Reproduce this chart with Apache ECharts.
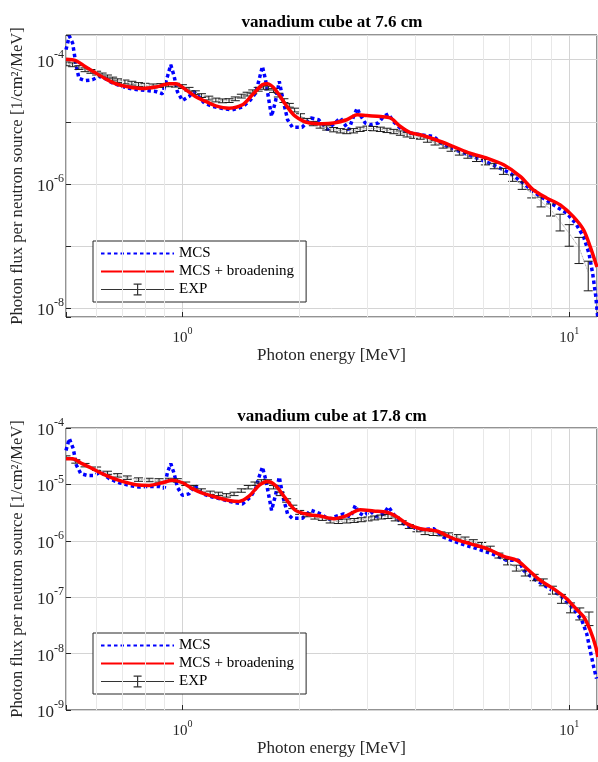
<!DOCTYPE html>
<html>
<head>
<meta charset="utf-8">
<script src="https://cdn.jsdelivr.net/npm/echarts@6/dist/echarts.min.js"></script>
<style>
html, body { margin: 0; padding: 0; background: #fff; }
#chart { width: 598px; height: 762px; }
</style>
</head>
<body>
<div id="chart"></div>
<script>
// ---- data: [energy MeV, flux] ----
var mcs76 = [
	[0.50, 1.45e-4], [0.51, 2.4e-4], [0.52, 1.86e-4], [0.53, 8.8e-5], [0.54, 5.0e-5],
	[0.56, 4.6e-5], [0.585, 4.75e-5], [0.61, 5.4e-5], [0.634, 4.9e-5], [0.66, 4.2e-5],
	[0.70, 3.7e-5], [0.742, 3.37e-5], [0.804, 3.2e-5], [0.853, 3.08e-5], [0.888, 2.83e-5],
	[0.915, 5.4e-5], [0.933, 8.3e-5], [0.952, 5.4e-5], [0.97, 3.08e-5], [1.0, 2.2e-5],
	[1.04, 2.56e-5], [1.07, 3.08e-5], [1.10, 2.56e-5], [1.14, 2.0e-5], [1.195, 1.77e-5],
	[1.27, 1.64e-5], [1.346, 1.56e-5], [1.43, 1.73e-5], [1.50, 2.26e-5], [1.546, 2.9e-5],
	[1.578, 4.75e-5], [1.61, 7.8e-5], [1.64, 4.75e-5], [1.675, 2.13e-5], [1.70, 1.22e-5],
	[1.74, 2.13e-5], [1.78, 4.47e-5], [1.82, 2.26e-5], [1.87, 1.08e-5], [1.924, 8.2e-6],
	[2.04, 8.2e-6], [2.15, 1.15e-5], [2.25, 1.08e-5], [2.37, 7.5e-6], [2.56, 1.15e-5],
	[2.69, 7.4e-6], [2.77, 1.22e-5], [2.83, 1.66e-5], [2.88, 1.3e-5], [2.97, 9.55e-6],
	[3.06, 9.0e-6], [3.21, 9.55e-6], [3.31, 1.22e-5], [3.41, 1.34e-5], [3.51, 1.01e-5],
	[3.66, 7.9e-6], [3.88, 6.6e-6], [4.12, 6.2e-6], [4.46, 5.8e-6], [4.73, 4.26e-6],
	[5.23, 3.3e-6], [5.77, 2.6e-6], [6.36, 2.03e-6], [7.05, 1.48e-6], [7.62, 1.02e-6],
	[8.08, 7.5e-7], [9.1, 4.6e-7], [9.85, 3.4e-7], [10.4, 2.3e-7], [10.9, 1.4e-7],
	[11.25, 7.6e-8], [11.5, 3.6e-8], [11.72, 1.52e-8], [11.85, 7.2e-9], [11.95, 4e-9]
];
var brd76 = [
	[0.50, 1.02e-4], [0.53, 9.7e-5], [0.56, 7.8e-5], [0.597, 6.1e-5], [0.634, 4.9e-5],
	[0.672, 4.1e-5], [0.728, 3.63e-5], [0.788, 3.44e-5], [0.853, 3.63e-5], [0.924, 4.1e-5],
	[0.961, 4.1e-5], [1.02, 3.28e-5], [1.08, 2.56e-5], [1.149, 2.13e-5], [1.219, 1.81e-5],
	[1.32, 1.66e-5], [1.43, 1.88e-5], [1.517, 2.72e-5], [1.61, 3.95e-5], [1.66, 4.1e-5],
	[1.74, 3.28e-5], [1.85, 1.88e-5], [1.96, 1.22e-5], [2.13, 9.55e-6], [2.30, 9.3e-6],
	[2.46, 9.55e-6], [2.66, 1.08e-5], [2.83, 1.3e-5], [3.0, 1.26e-5], [3.25, 1.22e-5],
	[3.45, 1.15e-5], [3.66, 8.4e-6], [3.88, 6.7e-6], [4.12, 6.2e-6], [4.54, 5.1e-6],
	[5.02, 4.0e-6], [5.54, 3.12e-6], [6.13, 2.6e-6], [6.77, 2.03e-6], [7.47, 1.32e-6],
	[8.08, 8.0e-7], [8.76, 5.9e-7], [9.48, 4.6e-7], [10.25, 2.97e-7], [10.9, 1.81e-7],
	[11.33, 9.8e-8], [11.8, 4.6e-8]
];
// [energy, flux, relative error]
var exp76 = [
	[0.50, 8.6e-5, 0.07], [0.52, 8.3e-5, 0.07], [0.54, 7.5e-5, 0.07], [0.56, 6.9e-5, 0.07],
	[0.58, 6.5e-5, 0.07], [0.60, 6.1e-5, 0.07], [0.62, 5.7e-5, 0.07], [0.64, 5.3e-5, 0.07],
	[0.66, 4.9e-5, 0.07], [0.68, 4.6e-5, 0.07], [0.71, 4.4e-5, 0.07], [0.74, 4.2e-5, 0.07],
	[0.77, 4.0e-5, 0.07], [0.80, 3.9e-5, 0.07], [0.84, 3.8e-5, 0.07], [0.88, 3.85e-5, 0.07],
	[0.92, 3.95e-5, 0.07], [0.96, 3.9e-5, 0.07], [1.00, 3.7e-5, 0.07], [1.04, 3.35e-5, 0.07],
	[1.08, 2.95e-5, 0.07], [1.12, 2.65e-5, 0.07], [1.17, 2.42e-5, 0.07], [1.22, 2.25e-5, 0.07],
	[1.27, 2.18e-5, 0.07], [1.32, 2.2e-5, 0.07], [1.37, 2.35e-5, 0.07], [1.42, 2.6e-5, 0.07],
	[1.47, 2.8e-5, 0.07], [1.52, 3.05e-5, 0.07], [1.57, 3.35e-5, 0.07], [1.62, 3.6e-5, 0.07],
	[1.67, 3.5e-5, 0.07], [1.72, 3.2e-5, 0.07], [1.77, 2.7e-5, 0.07], [1.83, 2.2e-5, 0.07],
	[1.89, 1.85e-5, 0.07], [1.95, 1.55e-5, 0.07], [2.02, 1.25e-5, 0.08], [2.10, 1.05e-5, 0.08],
	[2.18, 9.4e-6, 0.08], [2.27, 8.6e-6, 0.08], [2.36, 8.0e-6, 0.08], [2.46, 7.5e-6, 0.08],
	[2.56, 7.2e-6, 0.08], [2.66, 7.0e-6, 0.08], [2.77, 7.2e-6, 0.08], [2.88, 7.6e-6, 0.08],
	[3.00, 7.9e-6, 0.08], [3.12, 7.8e-6, 0.08], [3.25, 7.6e-6, 0.08], [3.38, 7.3e-6, 0.08],
	[3.52, 7.0e-6, 0.08], [3.66, 6.6e-6, 0.08], [3.81, 6.2e-6, 0.08], [3.96, 5.9e-6, 0.08],
	[4.12, 5.7e-6, 0.08], [4.30, 5.1e-6, 0.08], [4.50, 4.6e-6, 0.08], [4.72, 4.1e-6, 0.08],
	[4.95, 3.65e-6, 0.08], [5.20, 3.2e-6, 0.09], [5.47, 2.85e-6, 0.09], [5.76, 2.55e-6, 0.1],
	[6.07, 2.25e-6, 0.1], [6.40, 1.95e-6, 0.1], [6.76, 1.6e-6, 0.11], [7.14, 1.25e-6, 0.12],
	[7.56, 9.5e-7, 0.14], [8.00, 7.0e-7, 0.15], [8.46, 5.2e-7, 0.18], [8.95, 3.9e-7, 0.22],
	[9.47, 2.5e-7, 0.3], [10.0, 1.6e-7, 0.38], [10.6, 9.5e-8, 0.45], [11.2, 3.8e-8, 0.5]
];

var mcs178 = [
	[0.50, 4.0e-5], [0.51, 6.5e-5], [0.515, 6.9e-5], [0.522, 4.3e-5], [0.532, 2.19e-5],
	[0.546, 1.55e-5], [0.568, 1.44e-5], [0.59, 1.44e-5], [0.615, 1.65e-5], [0.647, 1.26e-5],
	[0.686, 1.07e-5], [0.728, 9.6e-6], [0.773, 8.95e-6], [0.82, 9.2e-6], [0.87, 9.2e-6],
	[0.897, 8.6e-6], [0.915, 1.65e-5], [0.933, 2.33e-5], [0.952, 1.55e-5], [0.97, 8.95e-6],
	[1.0, 6.4e-6], [1.04, 6.8e-6], [1.075, 9.6e-6], [1.126, 6.8e-6], [1.195, 5.96e-6],
	[1.27, 5.4e-6], [1.346, 4.85e-6], [1.43, 4.5e-6], [1.50, 5.96e-6], [1.546, 8.4e-6],
	[1.578, 1.35e-5], [1.61, 2.03e-5], [1.64, 1.26e-5], [1.675, 5.96e-6], [1.70, 3.47e-6],
	[1.74, 6.4e-6], [1.78, 1.35e-5], [1.82, 5.96e-6], [1.87, 3.0e-6], [1.924, 2.5e-6],
	[2.04, 2.5e-6], [2.15, 3.47e-6], [2.28, 3.0e-6], [2.39, 2.4e-6], [2.49, 2.7e-6],
	[2.61, 3.0e-6], [2.72, 2.64e-6], [2.80, 4.26e-6], [2.85, 3.2e-6], [2.94, 2.8e-6],
	[3.06, 3.37e-6], [3.18, 2.64e-6], [3.31, 3.0e-6], [3.41, 4.0e-6], [3.51, 3.0e-6],
	[3.66, 2.15e-6], [3.88, 1.75e-6], [4.12, 1.57e-6], [4.46, 1.64e-6], [4.73, 1.16e-6],
	[5.23, 8.9e-7], [5.77, 7.25e-7], [6.36, 5.75e-7], [6.89, 4.5e-7], [7.40, 4.5e-7],
	[7.62, 3.0e-7], [8.08, 2.14e-7], [8.76, 1.52e-7], [9.48, 1.07e-7], [10.25, 6.3e-8],
	[10.78, 3.9e-8], [11.1, 2.25e-8], [11.33, 1.14e-8], [11.57, 5.8e-9], [11.77, 3.6e-9]
];
var brd178 = [
	[0.50, 2.86e-5], [0.52, 2.86e-5], [0.55, 2.33e-5], [0.585, 1.9e-5], [0.62, 1.55e-5],
	[0.66, 1.29e-5], [0.70, 1.13e-5], [0.758, 9.9e-6], [0.82, 9.6e-6], [0.888, 1.07e-5],
	[0.942, 1.18e-5], [1.0, 1.07e-5], [1.061, 8.4e-6], [1.126, 7.0e-6], [1.219, 5.96e-6],
	[1.32, 5.2e-6], [1.40, 5.0e-6], [1.487, 6.2e-6], [1.578, 9.6e-6], [1.66, 1.13e-5],
	[1.74, 9.6e-6], [1.85, 5.6e-6], [1.96, 3.47e-6], [2.13, 2.9e-6], [2.27, 2.75e-6],
	[2.46, 2.47e-6], [2.66, 2.8e-6], [2.88, 3.55e-6], [3.12, 3.37e-6], [3.38, 3.2e-6],
	[3.59, 2.64e-6], [3.81, 2.0e-6], [4.12, 1.64e-6], [4.54, 1.49e-6], [5.02, 1.09e-6],
	[5.54, 8.9e-7], [6.13, 7.25e-7], [6.77, 5.3e-7], [7.33, 4.5e-7], [7.78, 3.2e-7],
	[8.41, 2.0e-7], [9.1, 1.42e-7], [9.85, 9.4e-8], [10.4, 6.3e-8], [10.9, 4.5e-8],
	[11.33, 2.6e-8], [11.72, 1.3e-8], [11.85, 8.7e-9]
];
var exp178 = [
	[0.50, 3.0e-5, 0.07], [0.53, 2.56e-5, 0.07], [0.56, 2.2e-5, 0.07], [0.60, 1.9e-5, 0.07],
	[0.64, 1.6e-5, 0.07], [0.68, 1.45e-5, 0.07], [0.72, 1.32e-5, 0.07], [0.77, 1.22e-5, 0.07],
	[0.82, 1.2e-5, 0.07], [0.87, 1.18e-5, 0.07], [0.92, 1.2e-5, 0.07], [0.97, 1.18e-5, 0.07],
	[1.02, 1.03e-5, 0.07], [1.07, 8.95e-6, 0.07], [1.12, 7.8e-6, 0.07], [1.18, 7.1e-6, 0.07],
	[1.24, 6.8e-6, 0.07], [1.30, 6.4e-6, 0.07], [1.36, 6.8e-6, 0.07], [1.42, 7.8e-6, 0.07],
	[1.48, 8.95e-6, 0.07], [1.54, 1.03e-5, 0.07], [1.60, 1.13e-5, 0.07], [1.66, 1.13e-5, 0.07],
	[1.72, 8.95e-6, 0.07], [1.79, 6.8e-6, 0.07], [1.86, 5.2e-6, 0.07], [1.93, 4.0e-6, 0.07],
	[2.01, 3.2e-6, 0.08], [2.10, 2.9e-6, 0.08], [2.20, 2.64e-6, 0.08], [2.30, 2.5e-6, 0.08],
	[2.41, 2.25e-6, 0.08], [2.53, 2.2e-6, 0.08], [2.66, 2.25e-6, 0.08], [2.78, 2.3e-6, 0.08],
	[2.90, 2.37e-6, 0.08], [3.02, 2.45e-6, 0.08], [3.14, 2.55e-6, 0.08], [3.27, 2.65e-6, 0.08],
	[3.40, 2.7e-6, 0.08], [3.55, 2.45e-6, 0.08], [3.70, 2.1e-6, 0.08], [3.86, 1.8e-6, 0.08],
	[4.04, 1.57e-6, 0.08], [4.24, 1.4e-6, 0.08], [4.45, 1.35e-6, 0.08], [4.66, 1.33e-6, 0.08],
	[4.88, 1.28e-6, 0.08], [5.12, 1.18e-6, 0.09], [5.38, 1.07e-6, 0.09], [5.65, 9.6e-7, 0.09],
	[5.94, 8.5e-7, 0.1], [6.25, 7.3e-7, 0.1], [6.58, 5.5e-7, 0.1], [6.93, 4.2e-7, 0.11],
	[7.30, 3.3e-7, 0.12], [7.70, 2.7e-7, 0.12], [8.12, 2.25e-7, 0.13], [8.57, 1.85e-7, 0.14],
	[9.05, 1.35e-7, 0.16], [9.55, 9.5e-8, 0.18], [10.08, 6.6e-8, 0.2], [10.65, 5.2e-8, 0.24],
	[11.25, 4.3e-8, 0.27]
];

var titles = ['vanadium cube at 7.6 cm', 'vanadium cube at 17.8 cm'];
var xRange = [0.5, 11.8];
var yRanges = [[7.2e-9, 2.5e-4], [1e-9, 1e-4]];

var serif = "'Liberation Serif', 'DejaVu Serif', serif";

// minor grid positions (2..9 x 10^k)
function minorValues(lo, hi) {
	var out = [];
	for (var k = -10; k <= 2; k++) {
		for (var m = 2; m <= 9; m++) {
			var v = m * Math.pow(10, k);
			if (v > lo * 1.0001 && v < hi * 0.9999) out.push(v);
		}
	}
	return out;
}

function powLabel(onlyEven) {
	return function(v) {
		var l = Math.log10(v);
		var e = Math.round(l);
		if (Math.abs(l - e) > 1e-6) return '';
		if (onlyEven && e % 2 != 0) return '';
		return '{b|10}{s|' + e + '}';
	};
}

var richX = {
	b: { fontFamily: serif, fontSize: 15, color: '#262626', lineHeight: 20, verticalAlign: 'bottom' },
	s: { fontFamily: serif, fontSize: 10, color: '#262626', lineHeight: 20, verticalAlign: 'top' }
};
var richY = {
	b: { fontFamily: serif, fontSize: 17, color: '#262626', lineHeight: 22, verticalAlign: 'bottom' },
	s: { fontFamily: serif, fontSize: 12, color: '#262626', lineHeight: 22, verticalAlign: 'top' }
};

function errRender(params, api) {
	var e = api.value(0), v = api.value(1), r = api.value(2);
	var hi = api.coord([e, v * (1 + r)]);
	var lo = api.coord([e, v * (1 - r)]);
	var w = 4.5;
	var st = { stroke: '#1a1a1a', lineWidth: 1 };
	return {
		type: 'group',
		children: [
			{ type: 'line', shape: { x1: hi[0], y1: hi[1], x2: lo[0], y2: lo[1] }, style: st },
			{ type: 'line', shape: { x1: hi[0] - w, y1: hi[1], x2: hi[0] + w, y2: hi[1] }, style: st },
			{ type: 'line', shape: { x1: lo[0] - w, y1: lo[1], x2: lo[0] + w, y2: lo[1] }, style: st }
		]
	};
}

var grids = [
	{ left: 66, right: 1, top: 35, height: 282 },
	{ left: 66, right: 1, top: 428, height: 282 }
];
var legendTops = [241, 633];
var titleTops = [14, 408];
var sets = [[mcs76, brd76, exp76], [mcs178, brd178, exp178]];

var option = {
	animation: false,
	backgroundColor: '#fff',
	title: [],
	legend: [],
	grid: [],
	xAxis: [],
	yAxis: [],
	series: []
};

for (var i = 0; i < 2; i++) {
	option.title.push({
		text: titles[i], left: 332, top: titleTops[i], textAlign: 'center', padding: 0,
		textStyle: { fontFamily: serif, fontSize: 17, fontWeight: 'bold', color: '#000' }
	});
	option.grid.push({
		left: grids[i].left, right: grids[i].right, top: grids[i].top, height: grids[i].height,
		show: true, borderColor: '#262626', borderWidth: 1, backgroundColor: 'transparent',
		outerBoundsMode: 'none', containLabel: false
	});
	option.xAxis.push({
		type: 'log', logBase: 10, gridIndex: i, min: xRange[0], max: xRange[1],
		axisLine: { show: false },
		axisTick: { show: true, inside: true, length: 5, lineStyle: { color: '#262626' } },
		splitLine: { show: true, lineStyle: { color: '#d4d4d4', width: 1 } },
		axisLabel: { formatter: powLabel(false), rich: richX, margin: 9 },
		name: 'Photon energy [MeV]', nameLocation: 'middle', nameGap: 28,
		nameTextStyle: { fontFamily: serif, fontSize: 17, color: '#262626' }
	});
	option.yAxis.push({
		type: 'log', logBase: 10, gridIndex: i, min: yRanges[i][0], max: yRanges[i][1],
		axisLine: { show: false },
		axisTick: { show: true, inside: true, length: 5, lineStyle: { color: '#262626' } },
		splitLine: { show: true, lineStyle: { color: '#d4d4d4', width: 1 } },
		axisLabel: { formatter: powLabel(i == 0), rich: richY, margin: 2 },
		name: 'Photon flux per neutron source [1/cm²/MeV]', nameLocation: 'middle', nameGap: 39,
		nameTextStyle: { fontFamily: serif, fontSize: 16.6, color: '#262626' }
	});

	var lines = [];
	minorValues(xRange[0], xRange[1]).forEach(function(v) { lines.push({ xAxis: v }); });
	minorValues(yRanges[i][0], yRanges[i][1]).forEach(function(v) { lines.push({ yAxis: v }); });

	option.series.push({
		type: 'line', xAxisIndex: i, yAxisIndex: i, data: [], z: 1, silent: true,
		markLine: {
			silent: true, symbol: ['none', 'none'], label: { show: false }, animation: false,
			lineStyle: { color: '#e8e8e8', width: 1, type: 'solid' },
			emphasis: { disabled: true },
			data: lines
		}
	});
	option.series.push({
		name: 'MCS', type: 'line', xAxisIndex: i, yAxisIndex: i, data: sets[i][0],
		symbol: 'none', z: 3,
		lineStyle: { color: '#0000ff', width: 3.5, type: [3.5, 3], cap: 'butt' },
		itemStyle: { color: '#0000ff' }
	});
	option.series.push({
		name: 'EXP', type: 'line', xAxisIndex: i, yAxisIndex: i,
		data: sets[i][2].map(function(d) { return [d[0], d[1]]; }),
		symbol: 'none', z: 4,
		lineStyle: { color: '#777', width: 0.8, type: 'dotted' },
		itemStyle: { color: '#333' }
	});
	option.series.push({
		name: 'EXP', type: 'custom', xAxisIndex: i, yAxisIndex: i, data: sets[i][2],
		renderItem: errRender, clip: true, z: 4
	});
	option.series.push({
		name: 'MCS + broadening', type: 'line', xAxisIndex: i, yAxisIndex: i, data: sets[i][1],
		symbol: 'none', smooth: 0.3, z: 5,
		lineStyle: { color: '#ff0000', width: 3.5 },
		itemStyle: { color: '#ff0000' }
	});

	option.legend.push({
		orient: 'vertical', left: 93, top: legendTops[i],
		padding: [5, 12, 5, 7], itemGap: 3, itemWidth: 73, itemHeight: 14,
		borderColor: '#262626', borderWidth: 1, backgroundColor: '#fff',
		selectedMode: false,
		textStyle: { fontFamily: serif, fontSize: 15, color: '#000' },
		data: [
			{ name: 'MCS', itemStyle: { opacity: 0 } },
			{ name: 'MCS + broadening', itemStyle: { opacity: 0 } },
			{ name: 'EXP', icon: 'path://M0,6.6h73v0.8h-73z M36,1h1.2v12h-1.2z M32.6,1h8v1.2h-8z M32.6,11.8h8v1.2h-8z', itemStyle: { color: '#333' } }
		]
	});
}

var chart = echarts.init(document.getElementById('chart'));
chart.setOption(option);
</script>
</body>
</html>
